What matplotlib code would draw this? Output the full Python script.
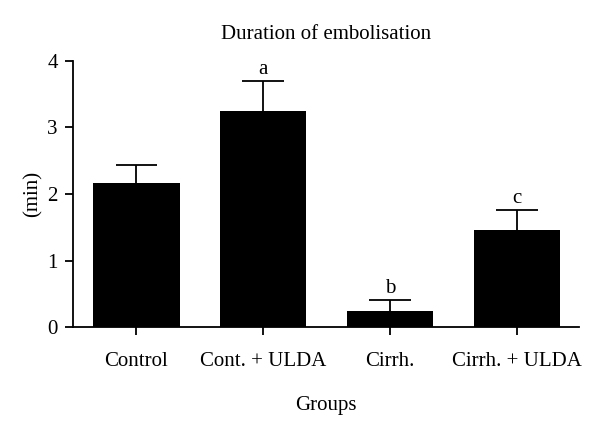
import matplotlib
matplotlib.use('Agg')
import matplotlib.pyplot as plt
import numpy as np

plt.rcParams['font.family'] = ['Liberation Serif', 'DejaVu Serif']

# data
groups = ['Control', 'Cont. + ULDA', 'Cirrh.', 'Cirrh. + ULDA']
means = [2.17, 3.25, 0.25, 1.46]
errors = [0.26, 0.45, 0.16, 0.30]
letters = ['', 'a', 'b', 'c']

fig = plt.figure(figsize=(6, 4.25), dpi=100)
ax = fig.add_axes([0.1217, 0.23, 0.8433, 0.627])

x = np.arange(len(groups))
means = np.array(means)
errors = np.array(errors)
ax.bar(x, means, width=0.68, color='black', zorder=2)
# upper error bars only
ax.vlines(x, means, means + errors, color='black', linewidth=1.3, zorder=1)
ax.hlines(means + errors, x - 0.165, x + 0.165, color='black', linewidth=1.3, zorder=1)

for xi, m, e, lab in zip(x, means, errors, letters):
    if lab:
        ax.text(xi, m + e + 0.03, lab, ha='center', va='bottom', fontsize=15)

ax.set_xlim(-0.5, 3.49)
ax.set_ylim(0, 4)
ax.set_yticks([0, 1, 2, 3, 4])
ax.set_xticks(x)
ax.set_xticklabels(groups)
for s in ['top', 'right']:
    ax.spines[s].set_visible(False)
for s in ['left', 'bottom']:
    ax.spines[s].set_linewidth(1.3)
ax.tick_params(axis='both', labelsize=15, width=1.3, length=6)
ax.tick_params(axis='x', pad=12)
ax.tick_params(axis='y', pad=5)

ax.set_title('Duration of embolisation', fontsize=15, pad=16)
ax.set_xlabel('Groups', fontsize=15, labelpad=17.5)
ax.set_ylabel('(min)', fontsize=15, labelpad=3)

fig.savefig('out.png', dpi=100)
